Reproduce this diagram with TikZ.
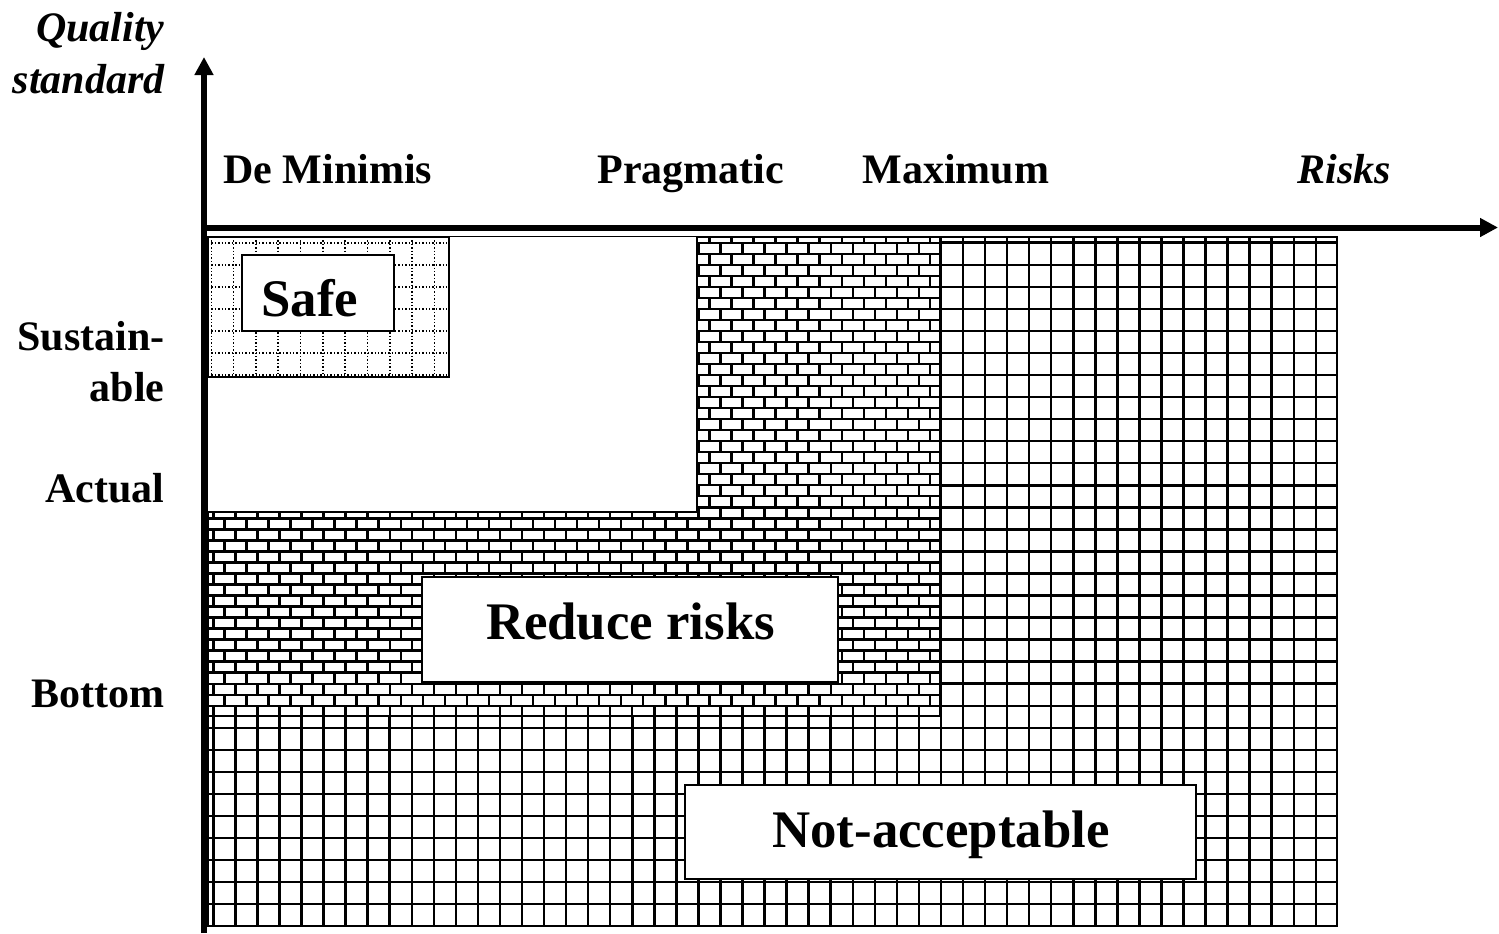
\documentclass[tikz,border=0pt]{standalone}
\usepackage{fontspec}
\setmainfont{Liberation Serif}
\usetikzlibrary{arrows.meta}
\tikzset{
  lab/.style={font=\fontsize{21}{25}\selectfont\bfseries, inner sep=0pt},
  itlab/.style={font=\fontsize{21}{25}\selectfont\bfseries\itshape, inner sep=0pt},
  big/.style={font=\fontsize{26.4}{30}\selectfont\bfseries, inner sep=0pt},
  gridline/.style={line width=1.25pt, black},
  brickline/.style={line width=1.2pt, black},
  dotline/.style={line width=0.8pt, black, dash pattern=on 0.7pt off 1pt},
  regionborder/.style={line width=0.7pt, black},
  labelbox/.style={draw, fill=white, line width=0.8pt, rectangle, inner sep=0pt},
  axis/.style={line width=3pt, -{Triangle[length=9pt,width=9pt]}},
}
\begin{document}
\begin{tikzpicture}[x=0.5pt,y=-0.5pt]
\useasboundingbox (0,0) rectangle (1499,933);
% ---- Not-acceptable region (grid)
\begin{scope}
  \clip (208,237) rectangle (1337,926);
  \foreach \i in {0,...,51} \draw[gridline] ({213.3+22.05*\i},237) -- ++(0,689);
  \foreach \j in {0,...,31} \draw[gridline] (208,{242.7+22.05*\j}) -- ++(1129,0);
\end{scope}
\draw[regionborder] (208,237) rectangle (1337,926);
% ---- white mask
\fill[white] (208,237) rectangle (940,716);
% ---- Reduce risks region (bricks)
\begin{scope}
  \clip (697,237) -- (940,237) -- (940,716) -- (208,716) -- (208,512) -- (697,512) -- cycle;
  \foreach \j in {-1,...,42} {
    \pgfmathsetmacro{\yt}{242.7+11.025*\j}
    \pgfmathsetmacro{\off}{mod(\j+2,2)*11.025}
    \draw[brickline] (208,\yt) -- (940,\yt);
    \foreach \m in {0,...,34} \draw[brickline] ({213.3-\off+22.05*\m},\yt) -- ++(0,11.025);
  }
\end{scope}
\draw[regionborder] (697,237) -- (940,237) -- (940,716) -- (208,716) -- (208,512) -- (697,512) -- cycle;
% ---- Safe region (dotted grid)
\begin{scope}
  \clip (208,237) rectangle (449,377);
  \foreach \i in {0,...,10} \draw[dotline] ({211.3+22.3*\i},237) -- ++(0,140);
  \foreach \j in {0,...,6} \draw[dotline] (208,{242.7+22.05*\j}) -- ++(241,0);
\end{scope}
\draw[regionborder] (208,237) rectangle (449,377);
% ---- label boxes
\node[labelbox, minimum width=76pt, minimum height=38pt] (safebox) at (318,293) {};
\node[big, anchor=base] (safe) at (310,316) {Safe};
\node[labelbox, minimum width=208pt, minimum height=52.5pt] (reducebox) at (630,629.5) {};
\node[big, anchor=base] (reduce) at (630.5,639) {Reduce risks};
\node[labelbox, minimum width=255.5pt, minimum height=47pt] (notbox) at (940.5,832) {};
\node[big, anchor=base] (notacc) at (941,847) {Not-acceptable};
% ---- axes
\coordinate (origin) at (204,933);
\coordinate (ytip) at (204,57);
\coordinate (xstart) at (201,227.5);
\coordinate (xtip) at (1498,227.5);
\draw[axis] (origin) -- (ytip);
\draw[axis] (xstart) -- (xtip);
% ---- axis labels
\node[itlab, anchor=base east] (q1) at (165,41) {Quality};
\node[itlab, anchor=base east] (q2) at (165,93) {standard};
\node[lab, anchor=base west] (deminimis) at (223,183) {De Minimis};
\node[lab, anchor=base west] (pragmatic) at (597,183) {Pragmatic};
\node[lab, anchor=base west] (maximum) at (862,183) {Maximum};
\node[itlab, anchor=base west] (risks) at (1297,183) {Risks};
\node[lab, anchor=base east] (sust1) at (165,350) {Sustain-};
\node[lab, anchor=base east] (sust2) at (165,401) {able};
\node[lab, anchor=base east] (actual) at (165,502) {Actual};
\node[lab, anchor=base east] (bottom) at (165,707) {Bottom};
\end{tikzpicture}
\end{document}
